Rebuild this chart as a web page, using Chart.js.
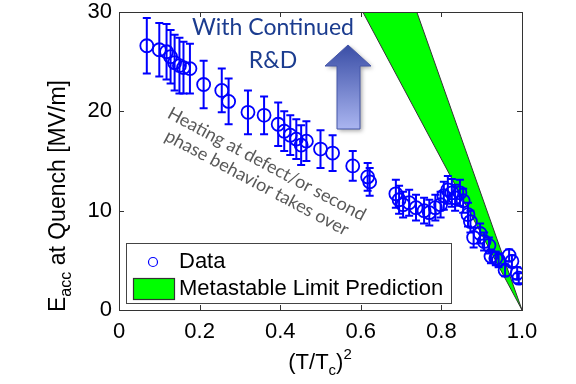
<!DOCTYPE html>
<html>
<head>
<meta charset="utf-8">
<script src="https://cdn.jsdelivr.net/npm/chart.js@4/dist/chart.umd.min.js"></script>
<style>
  html, body { margin: 0; padding: 0; background: #fff; }
  #chart { display: block; }
</style>
</head>
<body>
<canvas id="chart" width="576" height="384"></canvas>
<script>
// measured quench fields vs (T/Tc)^2
var tRatio2 = [0.069, 0.100, 0.118, 0.128, 0.138, 0.150, 0.160, 0.176, 0.210, 0.255,
  0.272, 0.320, 0.360, 0.395, 0.410, 0.425, 0.440, 0.452, 0.465, 0.500,
  0.530, 0.580, 0.617, 0.622, 0.687, 0.695, 0.705, 0.720, 0.737, 0.757,
  0.770, 0.785, 0.798, 0.806, 0.816, 0.826, 0.834, 0.846, 0.854, 0.866,
  0.872, 0.880, 0.896, 0.906, 0.918, 0.923, 0.935, 0.942, 0.958, 0.968,
  0.975, 0.988, 0.992];
var eaccQuench = [26.6, 26.2, 26.0, 25.5, 24.9, 24.6, 24.4, 24.3, 22.7, 22.1,
  21.0, 19.9, 19.6, 18.7, 18.0, 17.6, 17.2, 16.6, 17.0, 16.2,
  15.8, 14.5, 13.4, 12.9, 11.7, 11.1, 10.6, 10.8, 10.3, 10.0,
  9.8, 10.3, 10.6, 11.5, 12.1, 11.8, 11.3, 11.8, 11.0, 9.6,
  8.9, 7.3, 7.7, 6.9, 6.5, 5.4, 5.2, 5.0, 4.0, 5.5,
  4.9, 3.7, 3.2];
var eaccErr = [2.8, 2.7, 2.8, 2.7, 2.8, 2.8, 2.6, 2.5, 2.4, 2.2,
  2.3, 2.2, 1.9, 2.2, 2.0, 2.0, 2.0, 2.0, 2.0, 1.9,
  1.8, 1.5, 1.4, 1.4, 1.4, 1.4, 1.3, 1.3, 1.3, 1.3,
  1.3, 1.3, 1.3, 1.4, 1.4, 1.4, 1.3, 1.3, 1.2, 1.2,
  1.1, 1.0, 1.0, 0.9, 0.8, 0.7, 0.7, 0.7, 0.6, 0.6,
  0.6, 0.6, 0.5];

// metastable limit band: two straight edges meeting at (1, 0)
var limitLowX = [0.605, 1];
var limitHighX = [0.739, 1];
var limitY = [30, 0];

var xTicks = [0, 0.2, 0.4, 0.6, 0.8, 1];
var yTicks = [0, 10, 20, 30];

var dataPoints = tRatio2.map(function (x, i) { return { x: x, y: eaccQuench[i] }; });
var bandPoints = [
  { x: limitLowX[0], y: limitY[0] },
  { x: limitLowX[1], y: limitY[1] },
  { x: limitHighX[0], y: limitY[0] },
  { x: limitLowX[0], y: limitY[0] }
];

var tickFont = { family: 'Arial, "Liberation Sans", sans-serif', size: 22, lineHeight: 1 };

var errorBars = {
  id: 'errorBars',
  afterDatasetsDraw: function (chart) {
    var ctx = chart.ctx;
    var xs = chart.scales.x, ys = chart.scales.y;
    ctx.save();
    ctx.strokeStyle = '#0000ff';
    ctx.lineWidth = 2;
    for (var i = 0; i < tRatio2.length; i++) {
      var px = xs.getPixelForValue(tRatio2[i]);
      var top = ys.getPixelForValue(eaccQuench[i] + eaccErr[i]);
      var bot = ys.getPixelForValue(eaccQuench[i] - eaccErr[i]);
      ctx.beginPath();
      ctx.moveTo(px, top); ctx.lineTo(px, bot);
      ctx.moveTo(px - 4, top); ctx.lineTo(px + 4, top);
      ctx.moveTo(px - 4, bot); ctx.lineTo(px + 4, bot);
      ctx.stroke();
    }
    ctx.restore();
  }
};

function drawPieces(ctx, pieces, cx, cy) {
  // pieces: [text, size, shift]; draws centred on cx
  var total = 0;
  pieces.forEach(function (p) {
    ctx.font = p[1] + 'px Arial, "Liberation Sans", sans-serif';
    p.w = ctx.measureText(p[0]).width;
    total += p.w;
  });
  var x = cx - total / 2;
  pieces.forEach(function (p) {
    ctx.font = p[1] + 'px Arial, "Liberation Sans", sans-serif';
    ctx.fillText(p[0], x, cy + p[2]);
    x += p.w;
  });
}

var decorations = {
  id: 'decorations',
  afterDraw: function (chart) {
    var ctx = chart.ctx;
    var a = chart.chartArea;
    var xs = chart.scales.x, ys = chart.scales.y;
    ctx.save();

    // legend box
    ctx.fillStyle = '#fff';
    ctx.fillRect(126.5, 243.5, 325, 60);
    ctx.strokeStyle = '#444';
    ctx.lineWidth = 1;
    ctx.strokeRect(126.5, 243.5, 325, 60);
    ctx.beginPath();
    ctx.strokeStyle = '#0000ff';
    ctx.lineWidth = 1.2;
    ctx.arc(153, 262, 4.5, 0, Math.PI * 2);
    ctx.stroke();
    ctx.fillStyle = '#00ff00';
    ctx.fillRect(133, 278, 41, 21);
    ctx.strokeStyle = '#333';
    ctx.strokeRect(133.5, 278.5, 41, 21);
    ctx.fillStyle = '#000';
    ctx.font = '22px Arial, "Liberation Sans", sans-serif';
    ctx.textBaseline = 'middle';
    ctx.textAlign = 'left';
    ctx.fillText('Data', 179, 262);
    ctx.fillText('Metastable Limit Prediction', 179, 289);

    // frame and inward ticks
    ctx.strokeStyle = '#333';
    ctx.lineWidth = 1;
    ctx.strokeRect(a.left + 0.5, a.top + 0.5, a.right - a.left, a.bottom - a.top);
    ctx.beginPath();
    xTicks.forEach(function (v) {
      var px = Math.round(xs.getPixelForValue(v)) + 0.5;
      ctx.moveTo(px, a.bottom); ctx.lineTo(px, a.bottom - 5);
      ctx.moveTo(px, a.top); ctx.lineTo(px, a.top + 5);
    });
    yTicks.forEach(function (v) {
      var py = Math.round(ys.getPixelForValue(v)) + 0.5;
      ctx.moveTo(a.left, py); ctx.lineTo(a.left + 5, py);
      ctx.moveTo(a.right, py); ctx.lineTo(a.right - 5, py);
    });
    ctx.stroke();

    // axis titles
    ctx.fillStyle = '#000';
    ctx.textAlign = 'left';
    ctx.textBaseline = 'alphabetic';
    drawPieces(ctx, [['(T/T', 22, 0], ['c', 15, 6], [')', 22, 0], ['2', 15, -10]], 320, 369);
    ctx.save();
    ctx.translate(65, 196);
    ctx.rotate(-Math.PI / 2);
    drawPieces(ctx, [['E', 23, 0], ['acc', 16, 6], [' at Quench [MV/m]', 23, 0]], 0, 0);
    ctx.restore();

    // "With Continued R&D" note and arrow
    ctx.fillStyle = '#1b3c8f';
    ctx.font = '23px Lato, "Open Sans", sans-serif';
    ctx.textAlign = 'center';
    ctx.textBaseline = 'middle';
    ctx.fillText('With Continued', 273, 28);
    ctx.fillText('R&D', 273, 61);

    ctx.save();
    ctx.shadowColor = 'rgba(0,0,0,0.35)';
    ctx.shadowBlur = 4;
    ctx.shadowOffsetX = 2;
    ctx.shadowOffsetY = 2;
    var g = ctx.createLinearGradient(0, 45, 0, 129);
    g.addColorStop(0, '#3a4ea6');
    g.addColorStop(1, '#aab5f0');
    ctx.fillStyle = g;
    ctx.beginPath();
    ctx.moveTo(348, 45);
    ctx.lineTo(371, 66);
    ctx.lineTo(360, 66);
    ctx.lineTo(360, 129);
    ctx.lineTo(337, 129);
    ctx.lineTo(337, 66);
    ctx.lineTo(325, 66);
    ctx.closePath();
    ctx.fill();
    ctx.restore();
    ctx.strokeStyle = '#4556a8';
    ctx.lineWidth = 1;
    ctx.stroke();

    // rotated note about heating
    ctx.save();
    ctx.translate(262, 173);
    ctx.rotate(28 * Math.PI / 180);
    ctx.fillStyle = '#595959';
    ctx.font = '18px Lato, "Open Sans", sans-serif';
    ctx.textAlign = 'center';
    ctx.textBaseline = 'middle';
    ctx.fillText('Heating at defect/or second', 0, -10);
    ctx.fillText('phase behavior takes over', 0, 11);
    ctx.restore();

    ctx.restore();
  }
};

var chart = new Chart(document.getElementById('chart'), {
  type: 'scatter',
  data: {
    datasets: [{
      label: 'Data',
      data: dataPoints,
      pointStyle: 'circle',
      pointRadius: 6.5,
      borderColor: '#0000ff',
      backgroundColor: 'rgba(0,0,0,0)',
      borderWidth: 1.8,
      order: 1
    }, {
      label: 'Metastable Limit Prediction',
      data: bandPoints,
      showLine: true,
      fill: 'shape',
      pointRadius: 0,
      borderColor: '#333',
      borderWidth: 1,
      backgroundColor: '#00ff00',
      order: 2
    }]
  },
  options: {
    responsive: false,
    animation: false,
    devicePixelRatio: 1,
    layout: { padding: { left: 0, right: 54, top: 12, bottom: 0 } },
    plugins: { legend: { display: false }, tooltip: { enabled: false } },
    scales: {
      x: {
        type: 'linear',
        min: 0, max: 1,
        afterBuildTicks: function (scale) { scale.ticks = xTicks.map(function (v) { return { value: v }; }); },
        ticks: { font: tickFont, color: '#000', padding: 11, maxRotation: 0 },
        grid: { display: false, drawTicks: false },
        border: { display: false },
        afterFit: function (scale) { scale.height = 74; scale.paddingLeft = 0; scale.paddingRight = 0; }
      },
      y: {
        type: 'linear',
        min: 0, max: 30,
        afterBuildTicks: function (scale) { scale.ticks = yTicks.map(function (v) { return { value: v }; }); },
        ticks: { font: tickFont, color: '#000', padding: 7 },
        grid: { display: false, drawTicks: false },
        border: { display: false },
        afterFit: function (scale) { scale.width = 119; scale.paddingTop = 0; scale.paddingBottom = 0; }
      }
    }
  },
  plugins: [errorBars, decorations]
});
</script>
</body>
</html>
